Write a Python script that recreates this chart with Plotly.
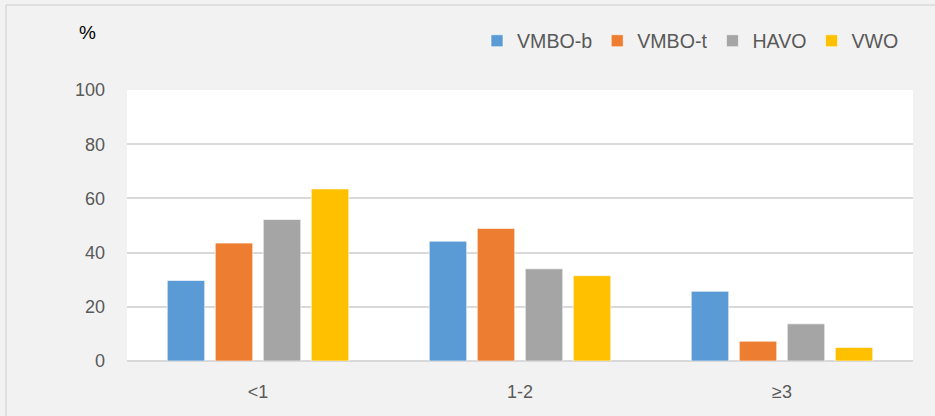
import plotly.graph_objects as go

categories = ["<1", "1-2", "≥3"]
series_names = ["VMBO-b", "VMBO-t", "HAVO", "VWO"]
vmbo_b = [29.7, 44.2, 25.7]
vmbo_t = [43.5, 48.9, 7.3]
havo = [52.2, 34.0, 13.7]
vwo = [63.5, 31.5, 5.0]
y_ticks = [0, 20, 40, 60, 80, 100]
colors = ["#5B9BD5", "#ED7D31", "#A5A5A5", "#FFC000"]

fig = go.Figure()
for name, vals, col in zip(series_names, [vmbo_b, vmbo_t, havo, vwo], colors):
    fig.add_trace(go.Bar(x=categories, y=vals, name=name,
                         marker=dict(color=col, line=dict(color="rgba(255,255,255,0.6)", width=1))))

W, H = 935, 416
L, R, T, B = 127, 22, 90, 55
pw = W - L - R
ph = H - T - B

def px_to_paper_x(px):
    return (px - L) / pw

def px_to_paper_y(py):
    return (H - B - py) / ph

fig.update_layout(
    width=W, height=H,
    margin=dict(l=L, r=R, t=T, b=B, autoexpand=False),
    paper_bgcolor="#F2F2F2",
    plot_bgcolor="#FFFFFF",
    barmode="group",
    bargap=0.267,
    bargroupgap=0.22,
    font=dict(family="Liberation Sans, Arial, sans-serif", size=18, color="#595959"),
    legend=dict(orientation="h", x=px_to_paper_x(477), y=px_to_paper_y(41), xanchor="left", yanchor="middle",
                font=dict(size=19.6, color="#595959"), bgcolor="rgba(0,0,0,0)", itemwidth=30, traceorder="normal"),
    xaxis=dict(showgrid=False, ticks="", tickfont=dict(size=18), showline=False, fixedrange=True,
               ticklabelstandoff=18),
    yaxis=dict(range=[0, 100], tickvals=y_ticks, showgrid=True, gridcolor="#D9D9D9", gridwidth=1.5,
               zeroline=True, zerolinecolor="#D9D9D9", zerolinewidth=1.5, ticks="", ticklabelstandoff=21,
               tickfont=dict(size=18), fixedrange=True),
    annotations=[dict(text="%", xref="paper", yref="paper", x=px_to_paper_x(87), y=px_to_paper_y(32),
                      xanchor="center", yanchor="middle",
                      showarrow=False, font=dict(size=19, color="#000000"))],
    shapes=[
        dict(type="line", xref="paper", yref="paper", x0=px_to_paper_x(6), x1=px_to_paper_x(940),
             y0=px_to_paper_y(5), y1=px_to_paper_y(5), line=dict(color="#D9D9D9", width=1.5)),
        dict(type="line", xref="paper", yref="paper", x0=px_to_paper_x(6), x1=px_to_paper_x(6),
             y0=px_to_paper_y(5), y1=px_to_paper_y(420), line=dict(color="#D9D9D9", width=1.5)),
    ],
)

fig.write_html("out.html", config={"displayModeBar": False},
               post_script="document.body.style.margin='0';document.body.style.background='#F2F2F2';")
